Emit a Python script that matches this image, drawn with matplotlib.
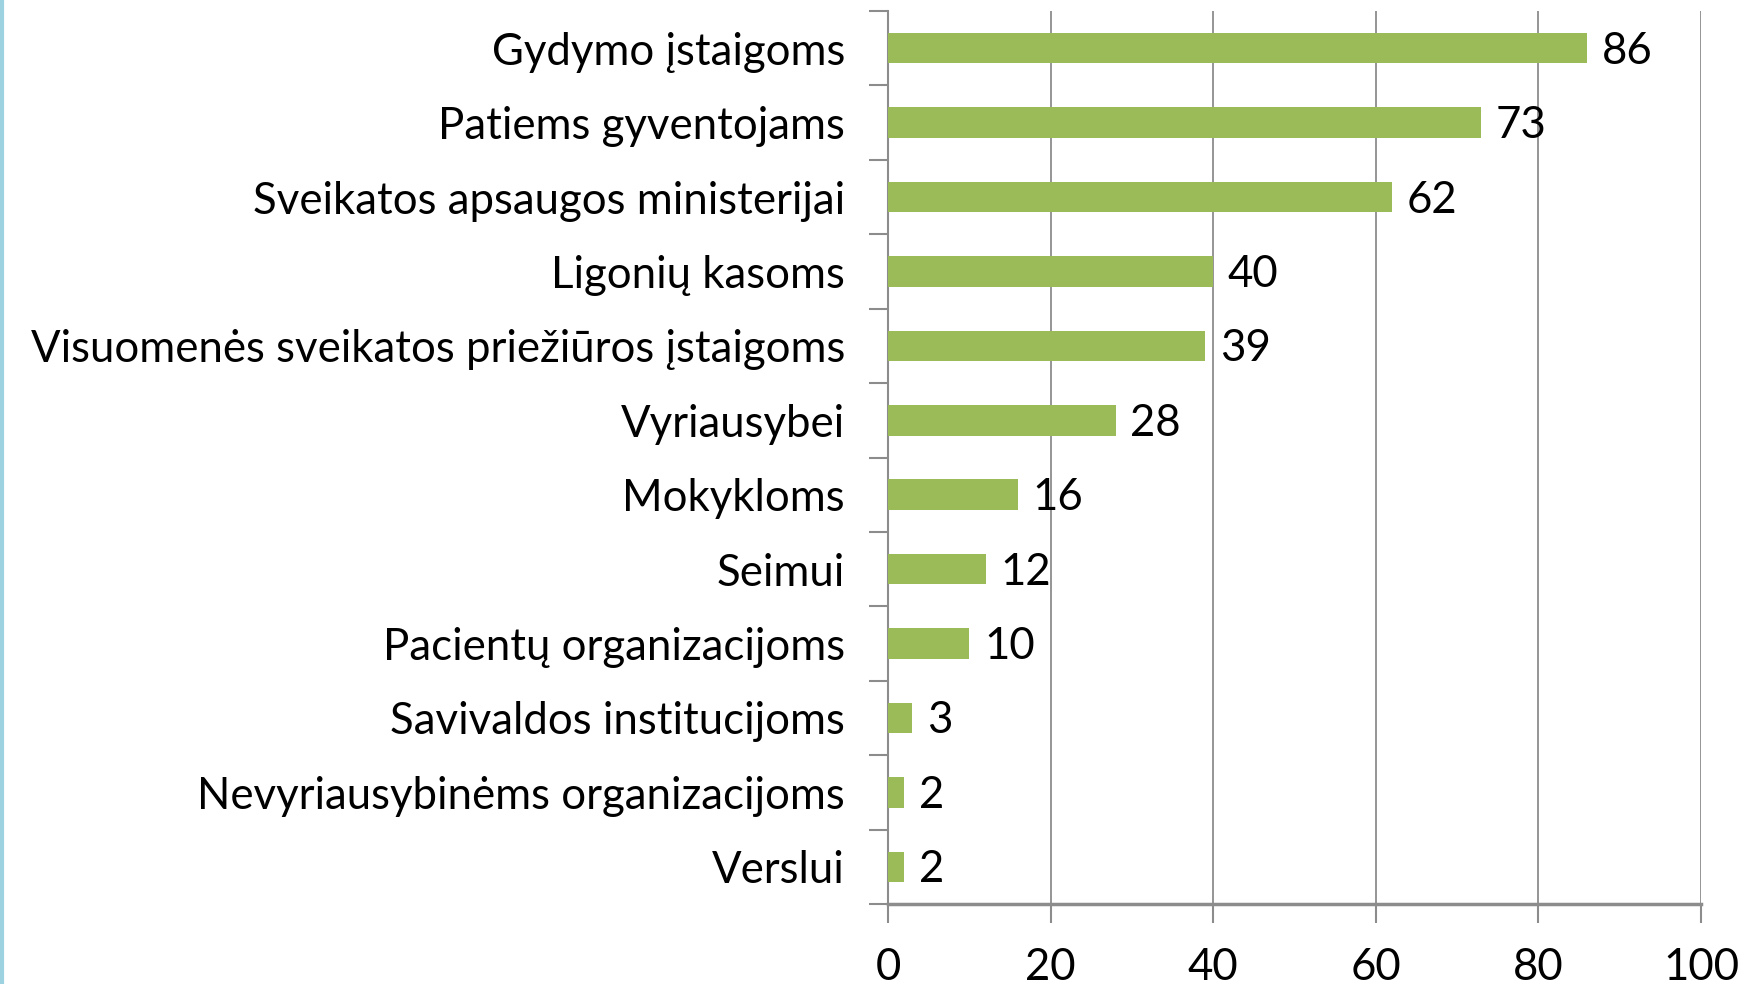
import matplotlib
matplotlib.use("Agg")
import matplotlib.pyplot as plt
import numpy as np

categories = ["Gydymo įstaigoms", "Patiems gyventojams", "Sveikatos apsaugos ministerijai",
              "Ligonių kasoms", "Visuomenės sveikatos priežiūros įstaigoms", "Vyriausybei",
              "Mokykloms", "Seimui", "Pacientų organizacijoms", "Savivaldos institucijoms",
              "Nevyriausybinėms organizacijoms", "Verslui"]
values = [86, 73, 62, 40, 39, 28, 16, 12, 10, 3, 2, 2]
xticks = [0, 20, 40, 60, 80, 100]

GREEN = "#9BBB59"
GRID = "#8c8c8c"
FS = 31.5
plt.rcParams["font.family"] = ["Lato", "DejaVu Sans"]

fig = plt.figure(figsize=(17.56, 9.84), dpi=100)
ax = fig.add_axes([888 / 1756, 1 - 904 / 984, (1701 - 888) / 1756, (904 - 11) / 984])

y = np.arange(len(categories))
ax.barh(y, values, height=0.41, color=GREEN, zorder=3)
for yi, v in zip(y, values):
    ax.text(v + 1.8, yi + 0.04, str(v), va="center", ha="left", fontsize=FS, color="black")

ax.set_ylim(len(categories) - 0.5, -0.5)
ax.set_xlim(0, 100)
ax.set_yticks(y)
ax.set_yticklabels(categories, fontsize=FS)
ax.set_yticks(np.arange(-0.5, len(categories) + 0.5, 1), minor=True)
ax.tick_params(axis="y", which="major", length=0, pad=31)
ax.tick_params(axis="y", which="minor", length=14, color=GRID, width=1.5)
ax.set_xticks(xticks)
ax.tick_params(axis="x", length=14, color=GRID, width=1.5, labelsize=FS, pad=17)
ax.grid(axis="x", color=GRID, linewidth=1.3, zorder=0)

for sp in ("top", "right"):
    ax.spines[sp].set_visible(False)
ax.spines["left"].set_color(GRID)
ax.spines["left"].set_linewidth(1.5)
ax.spines["bottom"].set_color(GRID)
ax.spines["bottom"].set_linewidth(2.5)

fig.add_artist(plt.Line2D([0.001, 0.001], [0, 1], color="#9DD3E0", linewidth=3))

fig.savefig("out.png", dpi=100)
